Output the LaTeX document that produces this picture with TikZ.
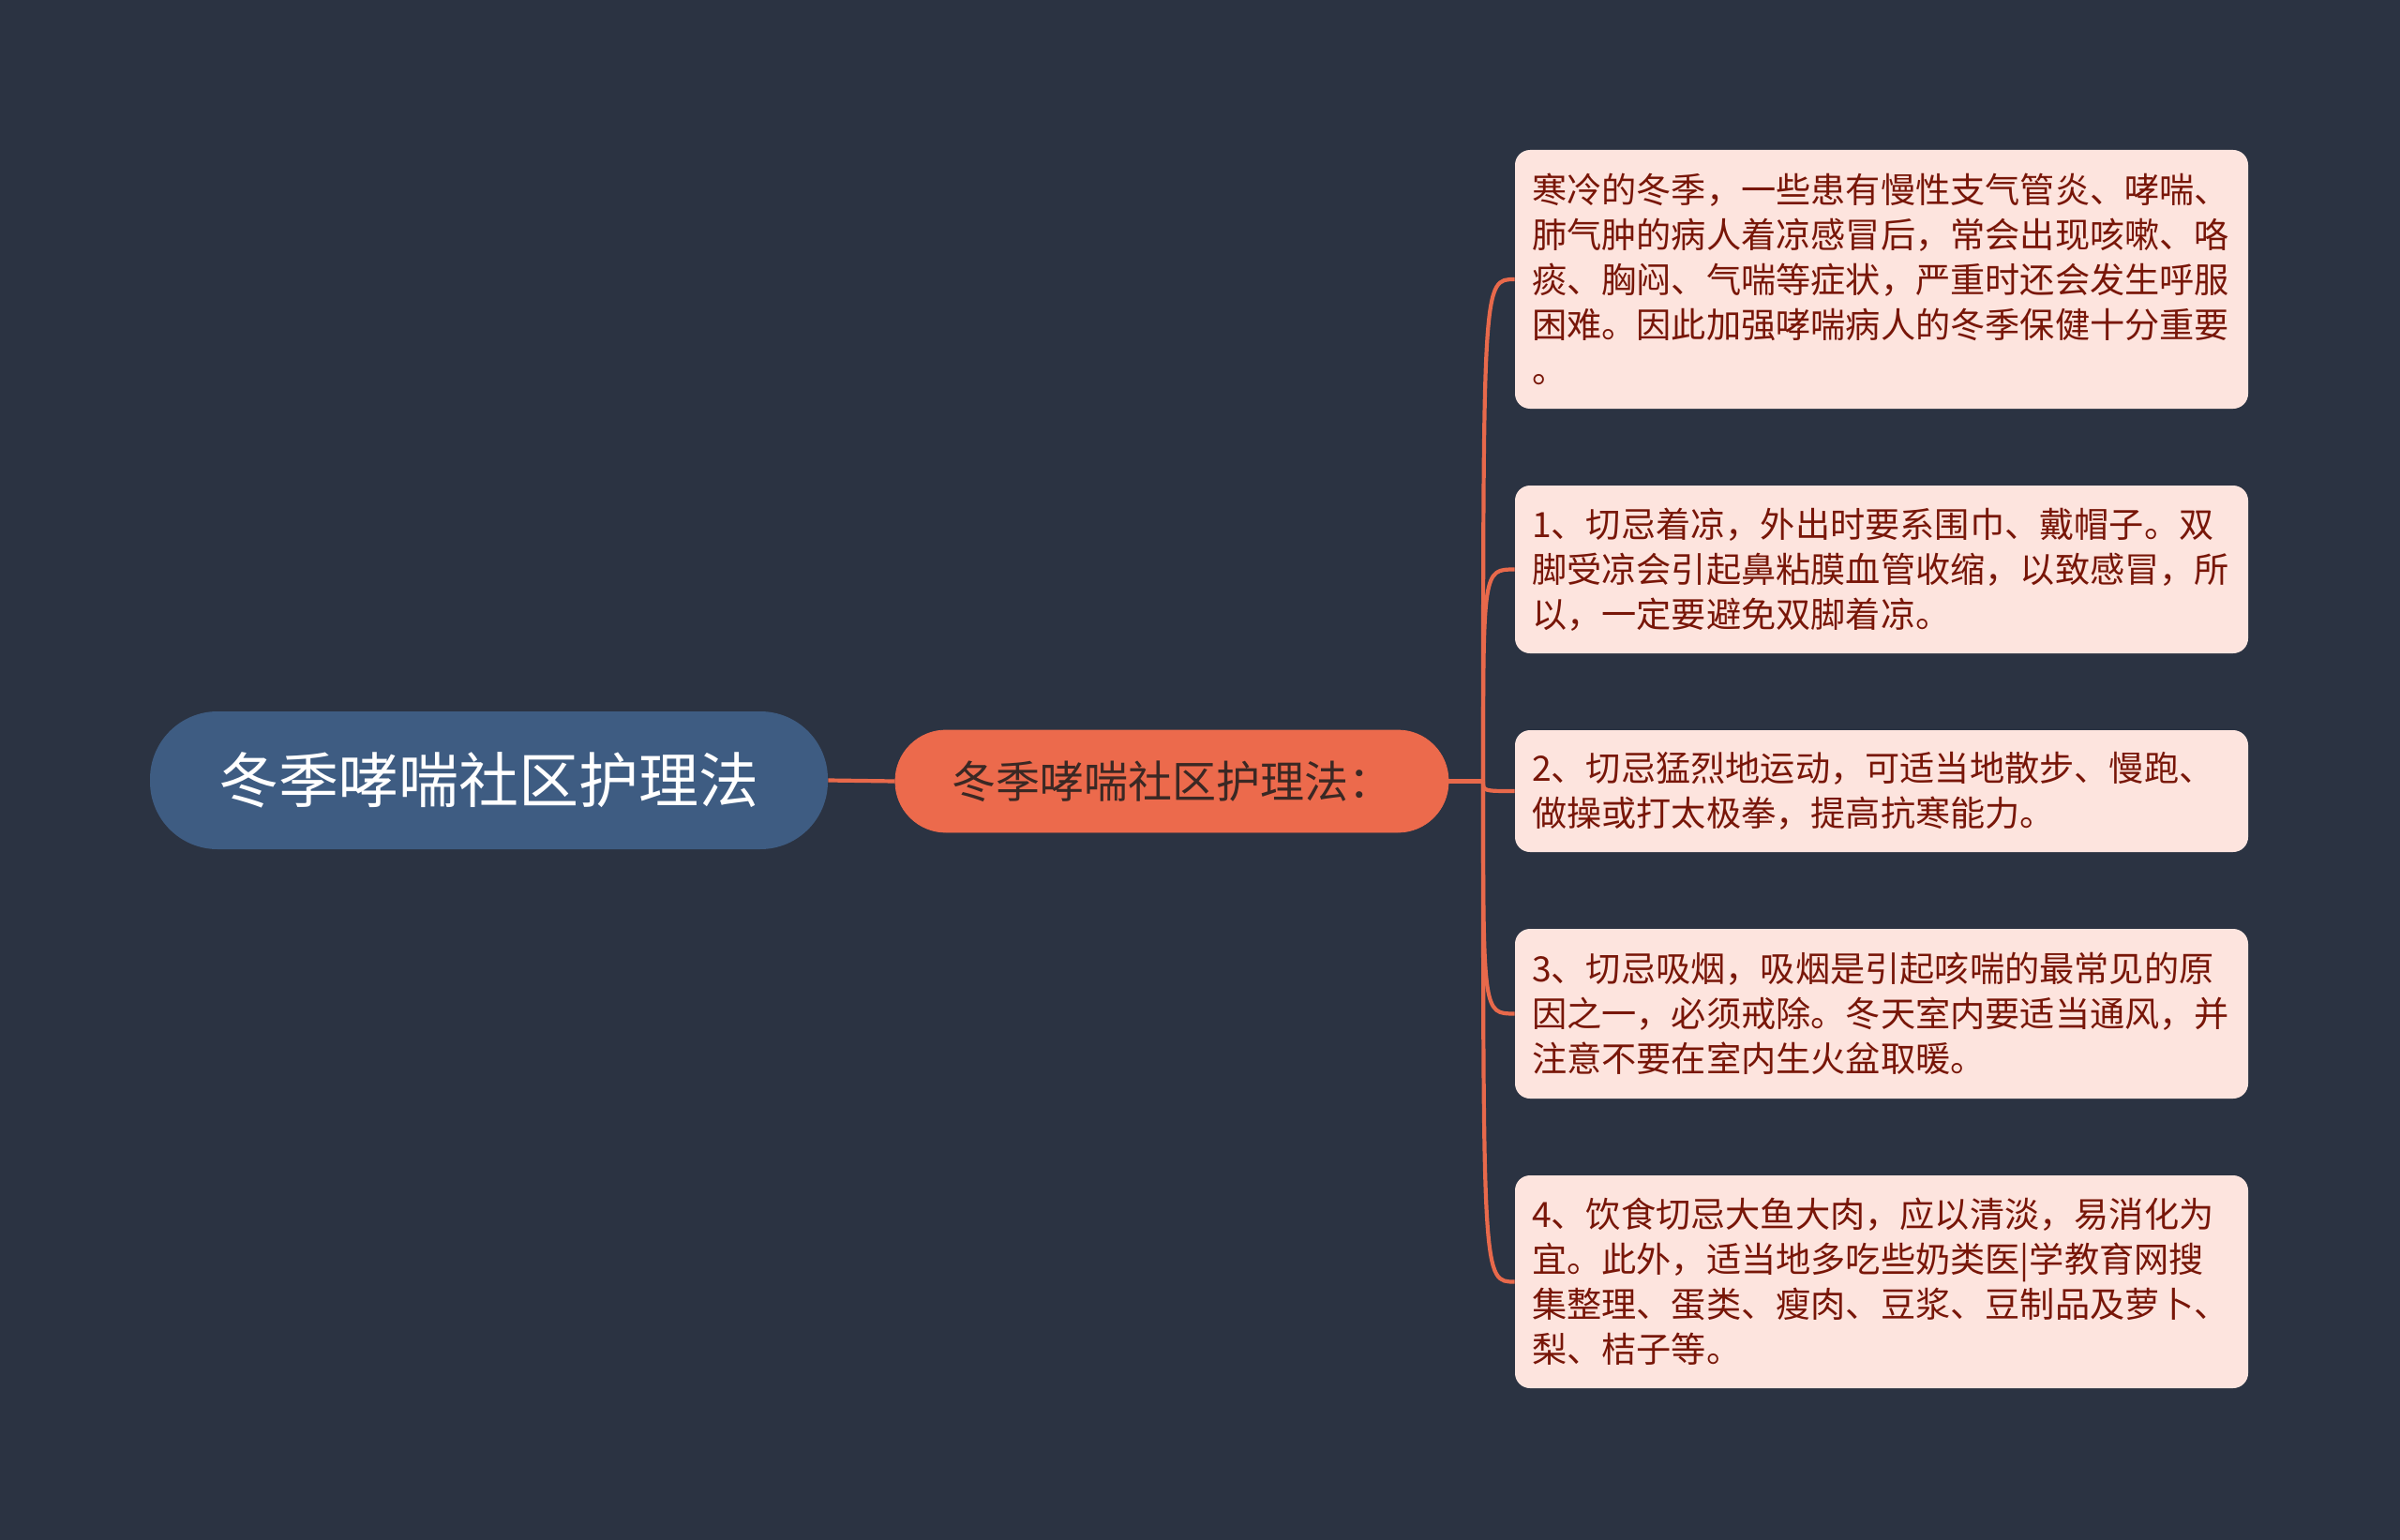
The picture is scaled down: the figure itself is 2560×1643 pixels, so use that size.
\documentclass[tikz,border=0pt]{standalone}
\usepackage{fontspec}
\setmainfont{Noto Sans CJK SC}
\definecolor{bgc}{RGB}{43,51,66}
\definecolor{rootc}{RGB}{62,92,130}
\definecolor{midc}{RGB}{236,106,76}
\definecolor{midtext}{RGB}{58,40,36}
\definecolor{leafc}{RGB}{253,228,222}
\definecolor{leaftext}{RGB}{120,22,8}
\definecolor{linec}{RGB}{232,105,75}
\begin{document}
\begin{tikzpicture}[x=0.5pt,y=-0.5pt,
  rootbox/.style={fill=rootc, rounded corners=36pt, minimum width=361.5pt, minimum height=73.5pt, inner sep=0pt, text=white, font=\fontsize{32}{38}\selectfont},
  midbox/.style={fill=midc, draw=midc, rounded corners=27pt, minimum width=295pt, minimum height=54.5pt, inner sep=0pt, text=midtext, font=\fontsize{23.5}{28}\selectfont},
  leafbox/.style={fill=leafc, rounded corners=8pt, text width=373pt, inner xsep=9pt, inner ysep=0pt, align=left, text=leaftext, font=\fontsize{18.6}{24}\selectfont},
  conn/.style={draw=linec, line width=2.1pt}]
\fill[bgc] (0,0) rectangle (2560,1643);
\useasboundingbox (0,0) rectangle (2560,1643);
\node[rootbox] (root) at (521.5,832.5) {冬季哮喘社区护理法};
\node[midbox] (mid) at (1250,833.5) {冬季哮喘社区护理法：};
\node[leafbox, minimum height=138pt] (l1) at (2007,298) {\raisebox{-1.5pt}{\parbox{373pt}{寒冷的冬季，一些患有慢性支气管炎、哮喘、\\肺气肿的病人着凉感冒后，常会出现咳嗽、咯\\痰、胸闷、气喘等症状，严重时还会发生呼服\\困难。因此加强哮喘病人的冬季保健十分重要\\。}}};
\node[leafbox, minimum height=89.5pt] (l2) at (2007,607.5) {\raisebox{-1.5pt}{\parbox{373pt}{1、切忌着凉，外出时要系围巾、戴帽子。双\\脚受凉会引起鼻粘膜血管收缩，以致感冒，所\\以，一定要避免双脚着凉。}}};
\node[leafbox, minimum height=65pt] (l3) at (2007,844) {\raisebox{-1.5pt}{\parbox{373pt}{2、切忌猛烈地运动，可适当地散步、慢跑、\\做操或打太极拳，提高抗寒能力。}}};
\node[leafbox, minimum height=90.5pt] (l4) at (2007,1081.5) {\raisebox{-1.5pt}{\parbox{373pt}{3、切忌吸烟，吸烟是引起咳喘的最常见的原\\因之一，必须戒除。冬天室内要适当通风，并\\注意不要在室内生火盆取暖。}}};
\node[leafbox, minimum height=113.5pt] (l5) at (2007,1367.5) {\raisebox{-1.5pt}{\parbox{373pt}{4、饮食切忌大鱼大肉，应以清淡，易消化为\\宜。此外，适当地多吃些奶类医|学教育网搜\\集整理、蛋类、瘦肉、豆浆、豆制品及萝卜、\\梨、桔子等。}}};
\coordinate (j) at (1582,833.5);
\draw[conn] (root.east) -- (mid.west);
\draw[conn] (mid.east) -- (j);
\foreach \l in {l1,l2,l3,l4,l5}
  \draw[conn] (j) .. controls (j |- \l.west) and (j |- \l.west) .. (\l.west);
\end{tikzpicture}
\end{document}
